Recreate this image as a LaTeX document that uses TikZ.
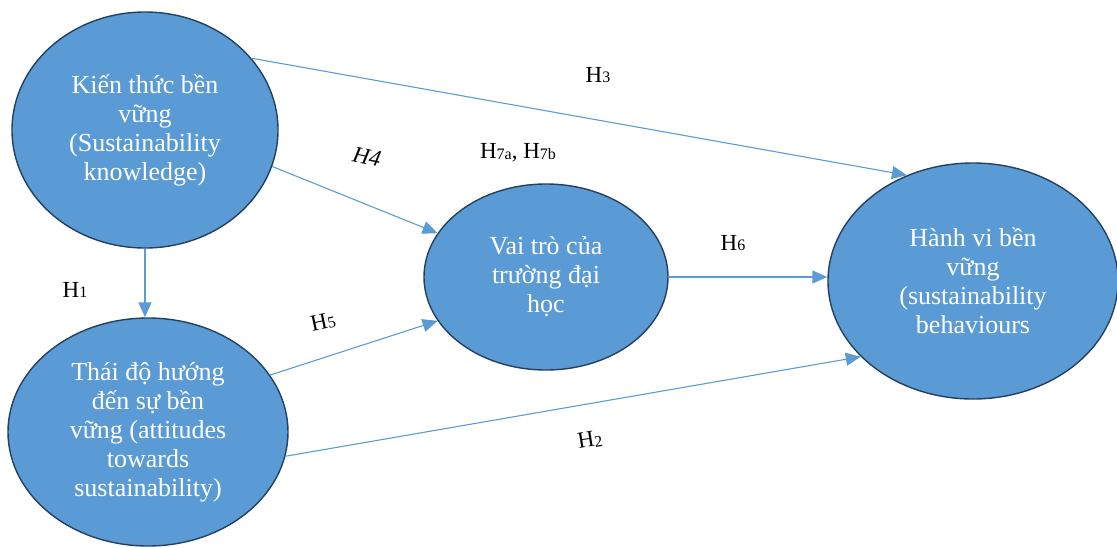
\documentclass[tikz,border=0pt]{standalone}
\usepackage{fontspec}
\setmainfont{Liberation Serif}
\usetikzlibrary{arrows.meta,shapes.geometric}
\definecolor{bubble}{HTML}{5B9BD5}
\definecolor{rim}{HTML}{23405F}
\definecolor{link}{HTML}{5B9BD5}
% hypothesis label: H with a smaller index
\newcommand{\hyp}[1]{H\raisebox{-0.8pt}{\fontsize{16pt}{16pt}\selectfont #1}}
\begin{document}
\begin{tikzpicture}[x=1pt,y=-1pt,
  construct/.style={ellipse, draw=rim, line width=1.4pt, fill=bubble,
    inner sep=0pt, text=white, align=center,
    font=\fontsize{26pt}{29pt}\selectfont},
  link/.style={draw=link, line width=1.1pt,
    -{Triangle[length=15pt,width=13pt]}},
  hlabel/.style={font=\fontsize{23pt}{23pt}\selectfont, inner sep=0pt}]
\useasboundingbox (0,0) rectangle (1117,547);

\node[construct, minimum width=266pt, minimum height=236pt] (know) at (145,130)
  {Kiến thức bền\\vững\\(Sustainability\\knowledge)};
\node[construct, minimum width=280pt, minimum height=228pt] (att) at (148,432)
  {Thái độ hướng\\đến sự bền\\vững (attitudes\\towards\\sustainability)};
\node[construct, minimum width=244pt, minimum height=186pt] (role) at (546,277)
  {Vai trò của\\trường đại\\học};
\node[construct, minimum width=290pt, minimum height=236pt] (beh) at (973,281)
  {Hành vi bền\\vững\\(sustainability\\behaviours};

% hypothesised paths
\draw[link] (know.34) -- (beh.122);
\draw[link] (know.-16) -- (role.158);
\draw[link] (know.south) -- (know.south |- att.north);
\draw[link] (att.25) -- (role.202);
\draw[link] (role.east) -- (role.east -| beh.west);
\draw[link] (att.-10) -- (beh.214);

% path labels
\node[hlabel] (h3) at (598,75) {\hyp{3}};
\node[hlabel, rotate=-12] (h4) at (367,157) {\itshape H4};
\node[hlabel] (h7) at (518,153) {\hyp{7a}, \hyp{7b}};
\node[hlabel] (h1) at (75,290) {\hyp{1}};
\node[hlabel, rotate=12] (h5) at (323,322) {\hyp{5}};
\node[hlabel] (h6) at (733,243) {\hyp{6}};
\node[hlabel, rotate=9] (h2) at (590,440) {\hyp{2}};
\end{tikzpicture}
\end{document}
